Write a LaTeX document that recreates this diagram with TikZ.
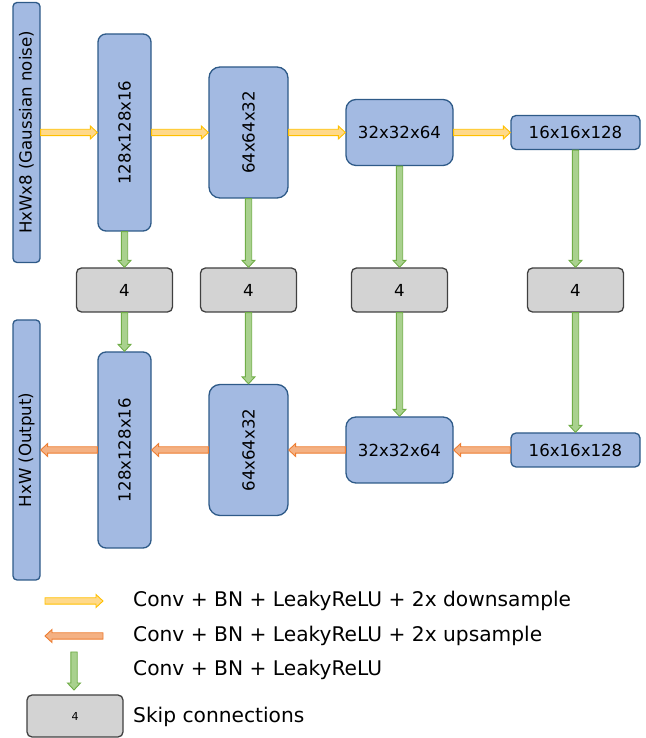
\documentclass[tikz,border=0pt]{standalone}
\usepackage{fontspec}
\setmainfont{DejaVu Sans}
\usepackage{graphicx}
\usetikzlibrary{calc}
\definecolor{bluefill}{HTML}{A3BAE2}
\definecolor{blueline}{HTML}{2E5A88}
\definecolor{grayfill}{HTML}{D3D3D3}
\definecolor{grayline}{HTML}{404040}
\definecolor{yelfill}{HTML}{FFD98A}
\definecolor{yelline}{HTML}{FFC000}
\definecolor{grnfill}{HTML}{A9D18E}
\definecolor{grnline}{HTML}{70AD47}
\definecolor{orgfill}{HTML}{F4B183}
\definecolor{orgline}{HTML}{ED7D31}
\def\aSW{3.2pt}
\def\aHW{6.5pt}
\def\aHL{7pt}
\newcommand{\arrR}[3]{\draw[#1] ($(#2)+(0,\aSW)$) -- ($(#3)+(-\aHL,\aSW)$) -- ($(#3)+(-\aHL,\aHW)$) -- (#3) -- ($(#3)+(-\aHL,-\aHW)$) -- ($(#3)+(-\aHL,-\aSW)$) -- ($(#2)+(0,-\aSW)$) -- cycle;}
\newcommand{\arrL}[3]{\draw[#1] ($(#2)+(0,\aSW)$) -- ($(#3)+(\aHL,\aSW)$) -- ($(#3)+(\aHL,\aHW)$) -- (#3) -- ($(#3)+(\aHL,-\aHW)$) -- ($(#3)+(\aHL,-\aSW)$) -- ($(#2)+(0,-\aSW)$) -- cycle;}
\newcommand{\arrD}[3]{\draw[#1] ($(#2)+(\aSW,0)$) -- ($(#3)+(\aSW,\aHL)$) -- ($(#3)+(\aHW,\aHL)$) -- (#3) -- ($(#3)+(-\aHW,\aHL)$) -- ($(#3)+(-\aSW,\aHL)$) -- ($(#2)+(-\aSW,0)$) -- cycle;}
\tikzset{
  bbox/.style={draw=blueline, fill=bluefill, line width=1.3pt, inner sep=0pt, font=\fontsize{16.6}{18}\selectfont},
  gbox/.style={draw=grayline, fill=grayfill, line width=1.3pt, inner sep=0pt, rounded corners=5pt, minimum width=96pt, minimum height=44pt, font=\fontsize{16.6}{18}\selectfont},
  yarr/.style={draw=yelline, fill=yelfill, line width=0.9pt},
  garr/.style={draw=grnline, fill=grnfill, line width=0.9pt},
  oarr/.style={draw=orgline, fill=orgfill, line width=0.9pt},
  legtext/.style={anchor=west, inner sep=0pt, font=\fontsize{20.2}{22}\selectfont},
}
\begin{document}
\begin{tikzpicture}[x=1pt,y=1pt]
\useasboundingbox (0,0) rectangle (645,738);
% top row
\node[bbox, rounded corners=4pt, minimum width=27pt, minimum height=260pt] (in) at (26.5,605.5) {\rotatebox{90}{HxWx8 (Gaussian noise)}};
\node[bbox, rounded corners=8pt, minimum width=53pt, minimum height=197pt] (A) at (124.5,605.5) {\rotatebox{90}{128x128x16}};
\node[bbox, rounded corners=11pt, minimum width=79pt, minimum height=131pt] (B) at (248.5,605.5) {\rotatebox{90}{64x64x32}};
\node[bbox, rounded corners=10pt, minimum width=107pt, minimum height=66pt] (C) at (399.5,605.5) {32x32x64};
\node[bbox, rounded corners=5pt, minimum width=129pt, minimum height=34pt] (D) at (575.5,605.5) {16x16x128};
% skip boxes
\node[gbox] (S1) at (124.5,448) {4};
\node[gbox] (S2) at (248.5,448) {4};
\node[gbox] (S3) at (399.5,448) {4};
\node[gbox] (S4) at (575.5,448) {4};
% bottom row
\node[bbox, rounded corners=4pt, minimum width=27pt, minimum height=260pt] (out) at (26.5,288) {\rotatebox{90}{HxW (Output)}};
\node[bbox, rounded corners=8pt, minimum width=53pt, minimum height=196pt] (A2) at (124.5,288) {\rotatebox{90}{128x128x16}};
\node[bbox, rounded corners=11pt, minimum width=79pt, minimum height=131pt] (B2) at (248.5,288) {\rotatebox{90}{64x64x32}};
\node[bbox, rounded corners=10pt, minimum width=107pt, minimum height=66pt] (C2) at (399.5,288) {32x32x64};
\node[bbox, rounded corners=5pt, minimum width=129pt, minimum height=34pt] (D2) at (575.5,288) {16x16x128};
% down-sampling arrows
\arrR{yarr}{in.east}{A.west}
\arrR{yarr}{A.east}{B.west}
\arrR{yarr}{B.east}{C.west}
\arrR{yarr}{C.east}{D.west}
% conv arrows
\arrD{garr}{A.south}{S1.north}
\arrD{garr}{B.south}{S2.north}
\arrD{garr}{C.south}{S3.north}
\arrD{garr}{D.south}{S4.north}
\arrD{garr}{S1.south}{A2.north}
\arrD{garr}{S2.south}{B2.north}
\arrD{garr}{S3.south}{C2.north}
\arrD{garr}{S4.south}{D2.north}
% up-sampling arrows
\arrL{oarr}{D2.west}{C2.east}
\arrL{oarr}{C2.west}{B2.east}
\arrL{oarr}{B2.west}{A2.east}
\arrL{oarr}{A2.west}{out.east}
% legend
\coordinate (l1a) at (45,137);
\coordinate (l1b) at (103,137);
\coordinate (l2a) at (103,102);
\coordinate (l2b) at (45,102);
\coordinate (l3a) at (74,86);
\coordinate (l3b) at (74,48);
\arrR{yarr}{l1a}{l1b}
\arrL{oarr}{l2a}{l2b}
\arrD{garr}{l3a}{l3b}
\node[gbox, minimum height=42pt, font=\fontsize{11}{12}\selectfont] (LS) at (75,22) {4};
\node[legtext] (t1) at (133,137) {Conv + BN + LeakyReLU + 2x downsample};
\node[legtext] (t2) at (133,102) {Conv + BN + LeakyReLU + 2x upsample};
\node[legtext] (t3) at (133,68) {Conv + BN + LeakyReLU};
\node[legtext] (t4) at (133,21) {Skip connections};
\end{tikzpicture}
\end{document}
